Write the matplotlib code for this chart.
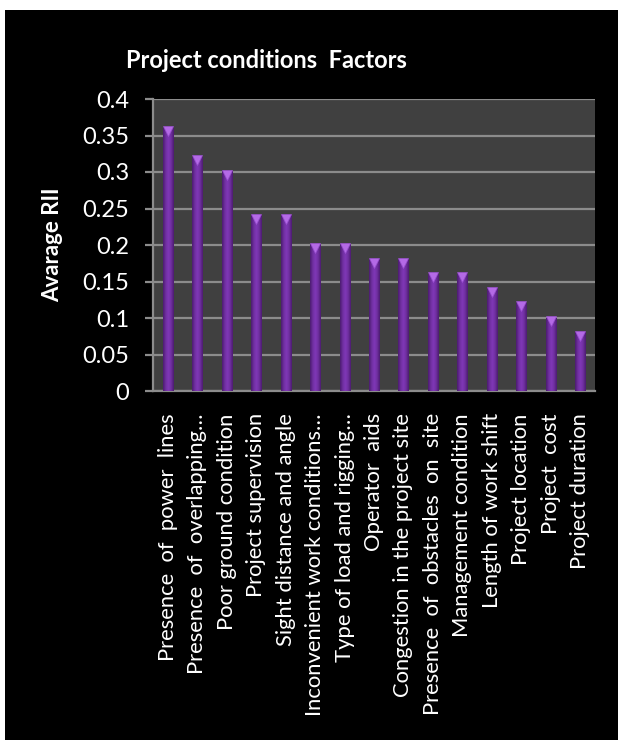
import numpy as np
import matplotlib
matplotlib.use("Agg")
import matplotlib.pyplot as plt
from matplotlib.colors import LinearSegmentedColormap
from matplotlib.patches import Rectangle
from matplotlib.transforms import ScaledTranslation

plt.rcParams['font.family'] = ['Lato', 'DejaVu Sans']

categories = [
    "Presence  of  power  lines",
    "Presence  of  overlapping\u2026",
    "Poor ground condition",
    "Project supervision",
    "Sight distance and angle",
    "Inconvenient work conditions\u2026",
    "Type of load and rigging\u2026",
    "Operator  aids",
    "Congestion in the project site",
    "Presence  of  obstacles  on  site",
    "Management condition",
    "Length of work shift",
    "Project location",
    "Project  cost",
    "Project duration",
]
avg_rii = [0.36, 0.32, 0.30, 0.24, 0.24, 0.20, 0.20, 0.18, 0.18,
           0.16, 0.16, 0.14, 0.12, 0.10, 0.08]
y_ticks = [0, 0.05, 0.1, 0.15, 0.2, 0.25, 0.3, 0.35, 0.4]
y_tick_labels = ["0", "0.05", "0.1", "0.15", "0.2", "0.25", "0.3", "0.35", "0.4"]

W, H = 618, 740
fig = plt.figure(figsize=(W / 100, H / 100), dpi=100, facecolor="white")

# black chart panel with a thin white margin on the top and left
fig.patches.append(Rectangle((5 / W, 0), 1 - 5 / W, 1 - 10 / H,
                             transform=fig.transFigure, facecolor="black",
                             edgecolor="none", zorder=-10))

ax = fig.add_axes([153 / W, 1 - 391 / H, 442 / W, 292 / H])
ax.set_facecolor("#404040")

n = len(categories)
x = np.arange(n)
bw = 0.34

# horizontal shading across each bar: dark edges, brighter middle
shade = LinearSegmentedColormap.from_list(
    "bar_shade", ["#4a1a6e", "#7030a0", "#8038b8", "#7030a0", "#4a1a6e"])
grad = np.linspace(0, 1, 64).reshape(1, -1)

for xi, v in zip(x, avg_rii):
    ax.imshow(grad, cmap=shade, aspect="auto", interpolation="bicubic",
              extent=(xi - bw / 2, xi + bw / 2, 0, v), zorder=3)

# lighter cap on top of each bar
cap_shift = ax.transData + ScaledTranslation(0, -3 / 100, fig.dpi_scale_trans)
ax.plot(x, avg_rii, linestyle="none", marker="v", markersize=7,
        markerfacecolor="#b46ae6", markeredgecolor="#9a50d0",
        markeredgewidth=0.5, transform=cap_shift, zorder=4)

ax.set_xlim(-0.5, n - 0.5)
ax.set_ylim(0, 0.4)
ax.set_yticks(y_ticks)
ax.set_yticklabels(y_tick_labels)
ax.set_xticks(x)
ax.set_xticklabels(categories, rotation=90, ha="center", va="top")

ax.grid(axis="y", color="#8c8c8c", linewidth=1.6, zorder=1)
ax.set_axisbelow(True)

for side in ("top", "right"):
    ax.spines[side].set_visible(False)
for side in ("left", "bottom"):
    ax.spines[side].set_color("#8c8c8c")
    ax.spines[side].set_linewidth(1.6)

ax.tick_params(axis="y", colors="#8c8c8c", labelcolor="white",
               labelsize=17, length=6, width=1.6, pad=11)
ax.tick_params(axis="x", colors="white", labelcolor="white",
               labelsize=15.8, length=0, pad=16)

ax.set_ylabel("Avarage RII", color="white", fontsize=16,
              fontweight="bold")
ax.yaxis.set_label_coords(-0.204, 0.5)

fig.text(266 / W, 1 - 60 / H, "Project conditions  Factors", color="white",
         fontsize=17, fontweight="bold", ha="center", va="center")

fig.savefig("out.png", dpi=100, facecolor="white")
